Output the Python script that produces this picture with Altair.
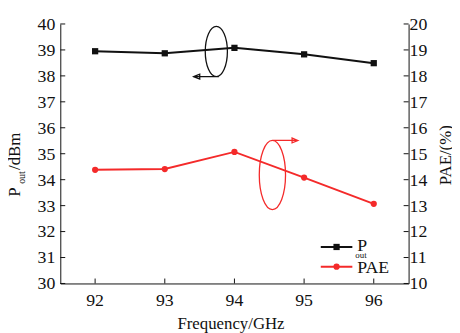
import altair as alt
import pandas as pd

# ---- data ----
freq = [92, 93, 94, 95, 96]
pout = [38.95, 38.87, 39.08, 38.83, 38.49]
pae = [14.38, 14.41, 15.07, 14.08, 13.07]
left_ticks = list(range(30, 41))
right_ticks = list(range(10, 21))
x_ticks = [92, 93, 94, 95, 96]

W, H = 353, 263
FONT = "Liberation Serif"
BLACK = "#111111"
RED = "#f42a2a"
FS = 17
TFS = 18

df = pd.DataFrame({"freq": freq, "pout": pout, "pae": pae})

xs = alt.Scale(domain=[91.5, 96.5], nice=False, zero=False)
ysl = alt.Scale(domain=[30, 40], nice=False, zero=False)
ysr = alt.Scale(domain=[10, 20], nice=False, zero=False)

xaxis = alt.Axis(values=x_ticks, title=None, ticks=False, grid=False, labels=False,
                 domainColor=BLACK, domainWidth=1)
laxis = alt.Axis(orient="left", values=left_ticks, title=None, ticks=False, labels=False,
                 grid=False, domainColor=BLACK, domainWidth=1)
raxis = alt.Axis(orient="right", values=right_ticks, title=None, ticks=False, labels=False,
                 grid=False, domainColor=BLACK, domainWidth=1)

def X(f):
    return alt.X(f, scale=xs, axis=xaxis)

# ---- left (Pout) layers ----
pout_line = alt.Chart(df).mark_line(color=BLACK, strokeWidth=2).encode(
    x=X("freq:Q"), y=alt.Y("pout:Q", scale=ysl, axis=laxis))
pout_pts = alt.Chart(df).mark_point(shape="square", filled=True, color=BLACK, size=40, opacity=1).encode(
    x=X("freq:Q"), y=alt.Y("pout:Q", scale=ysl, axis=laxis))

lt = pd.DataFrame({"t": left_ticks})
lticks = alt.Chart(lt).mark_rule(color=BLACK, strokeWidth=1).encode(
    y=alt.Y("t:Q", scale=ysl, axis=laxis), x=alt.value(0), x2=alt.value(5))
llabels = alt.Chart(lt).mark_text(font=FONT, fontSize=TFS, color=BLACK, align="right",
                                  baseline="alphabetic", dy=6).encode(
    y=alt.Y("t:Q", scale=ysl, axis=laxis), x=alt.value(-5), text=alt.Text("t:Q", format="d"))
xt = pd.DataFrame({"xt": x_ticks})
xticks = alt.Chart(xt).mark_rule(color=BLACK, strokeWidth=1).encode(
    x=X("xt:Q"), y=alt.value(H), y2=alt.value(H - 5))
xlabels = alt.Chart(xt).mark_text(font=FONT, fontSize=TFS, color=BLACK, align="center",
                                  baseline="alphabetic").encode(
    x=X("xt:Q"), y=alt.value(H + 23), text=alt.Text("xt:Q", format="d"))

# annotation ellipses (data coordinates)
ann_b = pd.DataFrame({"ax": [93.74], "ay": [38.94]})
ann_r = pd.DataFrame({"ax": [94.545], "ay": [34.18]})
shape_b = ("M 0 -1 A 0.44 1 0 0 1 0 1 A 0.44 1 0 0 1 0 -1 "
           "M 0.1 1 L -0.9 1 M -0.9 1 L -0.66 0.9 L -0.66 1.1 Z")
shape_r = ("M 0 -1 A 0.38 1 0 0 1 0 1 A 0.38 1 0 0 1 0 -1 "
           "M 0 -1 L 0.74 -1 M 0.74 -1 L 0.57 -1.07 L 0.57 -0.93 Z")
ell_b = alt.Chart(ann_b).mark_point(shape=shape_b, filled=False, color=BLACK, strokeWidth=1.3,
                                    size=2601, opacity=1).encode(
    x=X("ax:Q"), y=alt.Y("ay:Q", scale=ysl, axis=laxis))
ell_r = alt.Chart(ann_r).mark_point(shape=shape_r, filled=False, color=RED, strokeWidth=1.3,
                                    size=4900, opacity=1).encode(
    x=X("ax:Q"), y=alt.Y("ay:Q", scale=ysl, axis=laxis))

# legend (manual)
leg = pd.DataFrame({"d": [0]})
def txt(s, x, y, size=FS, color=BLACK, angle=0, align="left"):
    return alt.Chart(leg).mark_text(text=s, font=FONT, fontSize=size, color=color, angle=angle,
                                    align=align, baseline="alphabetic").encode(
        x=alt.value(x), y=alt.value(y))

leg_b_line = alt.Chart(leg).mark_rule(color=BLACK, strokeWidth=2).encode(
    x=alt.value(264), x2=alt.value(296), y=alt.value(226))
leg_b_pt = alt.Chart(leg).mark_point(shape="square", filled=True, color=BLACK, size=40, opacity=1).encode(
    x=alt.value(280), y=alt.value(226))
leg_r_line = alt.Chart(leg).mark_rule(color=RED, strokeWidth=2).encode(
    x=alt.value(264), x2=alt.value(296), y=alt.value(246))
leg_r_pt = alt.Chart(leg).mark_point(shape="circle", filled=True, color=RED, size=40, opacity=1).encode(
    x=alt.value(280), y=alt.value(246))

texts = [
    txt("P", 301, 230, size=18),
    txt("out", 299, 237, size=9),
    txt("PAE", 301, 252, size=18),
    # left axis title
    txt("P", -41, 175, angle=270),
    txt("out", -36, 162, size=10, angle=270),
    txt("/dBm", -41, 148, angle=270),
    # right axis title
    txt("PAE/(%)", 396, 133, angle=270, align="center"),
    # x title
    txt("Frequency/GHz", 173, 309, align="center"),
]

left = alt.layer(lticks, llabels, xticks, xlabels, ell_b, ell_r, pout_line, pout_pts,
                 leg_b_line, leg_b_pt, leg_r_line, leg_r_pt, *texts)

# ---- right (PAE) layers ----
pae_line = alt.Chart(df).mark_line(color=RED, strokeWidth=2).encode(
    x=X("freq:Q"), y=alt.Y("pae:Q", scale=ysr, axis=raxis))
pae_pts = alt.Chart(df).mark_point(shape="circle", filled=True, color=RED, size=40, opacity=1).encode(
    x=X("freq:Q"), y=alt.Y("pae:Q", scale=ysr, axis=raxis))
rt = pd.DataFrame({"t": right_ticks})
rticks = alt.Chart(rt).mark_rule(color=BLACK, strokeWidth=1).encode(
    y=alt.Y("t:Q", scale=ysr, axis=raxis), x=alt.value(W - 5), x2=alt.value(W))
rlabels = alt.Chart(rt).mark_text(font=FONT, fontSize=TFS, color=BLACK, align="left",
                                  baseline="alphabetic", dy=6).encode(
    y=alt.Y("t:Q", scale=ysr, axis=raxis), x=alt.value(W + 1), text=alt.Text("t:Q", format="d"))

right = alt.layer(rticks, rlabels, pae_line, pae_pts)

chart = alt.layer(left, right).resolve_scale(y="independent").properties(
    width=W, height=H,
    autosize=alt.AutoSizeParams(type="none"),
    padding={"left": 53, "top": 14, "right": 44, "bottom": 48},
    background="white",
).configure(font=FONT).configure_view(stroke=None)

chart.save("out.html", embed_options={"renderer": "svg", "actions": False})
